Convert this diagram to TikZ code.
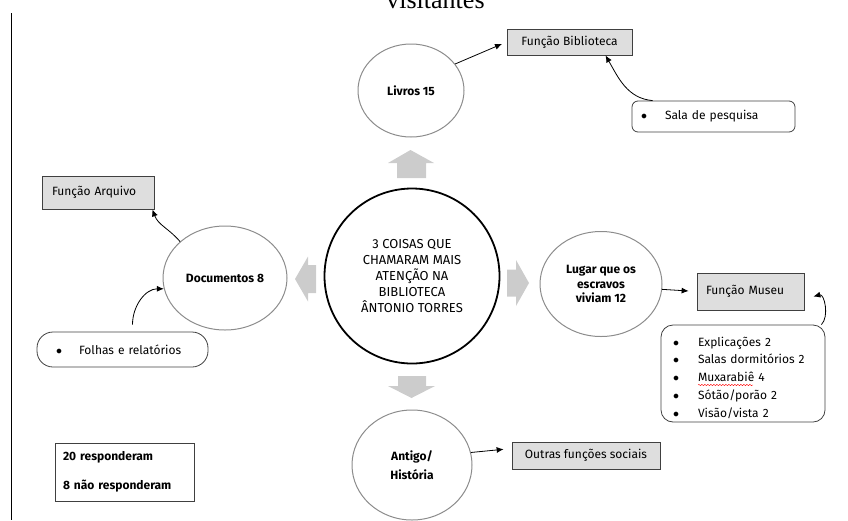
\documentclass[tikz,border=0pt]{standalone}
\usepackage{fontspec}
\setmainfont{Fira Sans}
\newfontfamily\titlefont{Liberation Serif}
\usetikzlibrary{positioning,arrows.meta,shapes.geometric,decorations.pathmorphing}

\tikzset{
  every node/.style={font=\fontsize{12}{15}\selectfont},
  bubble/.style={ellipse,draw=black!45,line width=1pt,inner sep=0pt,align=center,font=\fontsize{12}{14.5}\selectfont\bfseries},
  hub/.style={circle,draw=black,line width=1.8pt,minimum size=175pt,inner sep=0pt,align=center,font=\fontsize{13}{16}\selectfont},
  funcbox/.style={rectangle,draw=black!75,fill=black!13,line width=0.8pt,inner sep=0pt,align=left},
  listbox/.style={rectangle,rounded corners=6pt,draw=black!75,line width=0.8pt,inner sep=0pt,align=left},
  respbox/.style={rectangle,draw=black!75,line width=0.8pt,inner sep=0pt,align=left,font=\fontsize{12}{15}\selectfont\bfseries},
  blockarrow/.style={fill=black!20,draw=none},
  link/.style={-{Latex[length=7pt,width=6pt]},line width=0.8pt},
}
\newcommand{\bul}[1]{\makebox[#1][l]{$\bullet$}}

\begin{document}
\begin{tikzpicture}[x=1pt,y=-1pt]
  \useasboundingbox (0,0) rectangle (848,520);
  \clip (0,0) rectangle (848,520);

  % title cut at the top and page rule
  \node[font=\titlefont\fontsize{26}{30}\selectfont,anchor=base] (title) at (435.5,8) {visitantes};
  \draw[line width=0.8pt] (11,13) -- (11,520);

  % centre and the four answers
  \node[hub] (hub) at (412,276) {3 COISAS QUE\\CHAMARAM MAIS\\ATENÇÃO NA\\BIBLIOTECA\\ÂNTONIO TORRES};
  \node[bubble,minimum width=106pt,minimum height=93pt] (livros) at (411,90.5) {Livros 15};
  \node[bubble,minimum width=124pt,minimum height=104pt] (docs) at (225,278) {Documentos 8};
  \node[bubble,minimum width=122pt,minimum height=105pt] (lugar) at (601,284) {Lugar que os\\escravos\\viviam 12};
  \node[bubble,minimum width=120pt,minimum height=110pt] (antigo) at (412,465) {Antigo/\\[5pt]História};

  % grey block arrows round the centre
  \fill[blockarrow] (410.5,150) -- (434,163) -- (426,163) -- (426,178) -- (397,178) -- (397,163) -- (388,163) -- cycle;
  \fill[blockarrow] (411.5,398) -- (435,386) -- (426,386) -- (426,376) -- (398,376) -- (398,386) -- (388,386) -- cycle;
  \fill[blockarrow] (295,279) -- (308,256.5) -- (308,265) -- (316,265) -- (316,293) -- (308,293) -- (308,301.5) -- cycle;
  \fill[blockarrow] (529,283) -- (516,260) -- (516,269.5) -- (507,269.5) -- (507,296.5) -- (516,296.5) -- (516,306) -- cycle;

  % functions
  \node[funcbox,minimum width=125pt,minimum height=26pt,align=center] (fbib) at (569.5,42) {Função Biblioteca};
  \node[funcbox,minimum width=112pt,minimum height=33pt,text width=92pt] (farq) at (98,192.5) {Função Arquivo};
  \node[funcbox,minimum width=107pt,minimum height=37pt,text width=89pt] (fmus) at (750.5,291.5) {Função Museu};
  \node[funcbox,minimum width=148pt,minimum height=27pt,align=center] (fout) at (586,455.5) {Outras funções sociais};

  % lists
  \node[listbox,minimum width=163pt,minimum height=31pt,text width=145pt] (sala) at (713.5,116.5)
    {\bul{24pt}Sala de pesquisa};
  \node[listbox,rounded corners=16pt,minimum width=171pt,minimum height=35pt,text width=133pt] (folhas) at (122.5,349.5)
    {\bul{23pt}Folhas e relatórios};
  \node[listbox,rounded corners=12pt,minimum width=164pt,minimum height=97pt] (mlist) at (743,373.5) {};
  \node[text width=140pt,align=left,inner sep=0pt,font=\fontsize{12}{17.75}\selectfont] (mtext) at ([yshift=-4pt]mlist.center)
    {\bul{25pt}Explicações 2\\\bul{25pt}Salas dormitórios 2\\\bul{25pt}Muxarabiê 4\\\bul{25pt}Sótão/porão 2\\\bul{25pt}Visão/vista 2};
  \draw[red,decorate,decoration={snake,amplitude=0.7pt,segment length=3pt}] (698,385) -- (753,385);

  \node[respbox,minimum width=139pt,minimum height=58pt,text width=123pt] (resp) at (124.5,472)
    {20 responderam\\[14pt]8 não responderam};

  % connectors
  \draw[link,shorten >=5pt] (livros.31) -- (fbib.west);
  \draw[link] ([xshift=21pt]sala.north west) to[out=175,in=-60] ([xshift=36pt]fbib.south);
  \draw[link] (docs.141) to[out=130,in=-70] ([xshift=-2pt]farq.south east);
  \draw[link] ([xshift=10pt,yshift=7pt]folhas.north) to[out=90,in=180] (docs.190);
  \draw[link,shorten >=8pt] (lugar.-5) -- (fmus.west);
  \draw[link] ([xshift=-4pt]mlist.north east) to[out=45,in=15] ([xshift=9pt,yshift=-5pt]fmus.east);
  \draw[link,shorten >=8pt] (antigo.12) -- ([yshift=7pt]fout.west);
\end{tikzpicture}
\end{document}
